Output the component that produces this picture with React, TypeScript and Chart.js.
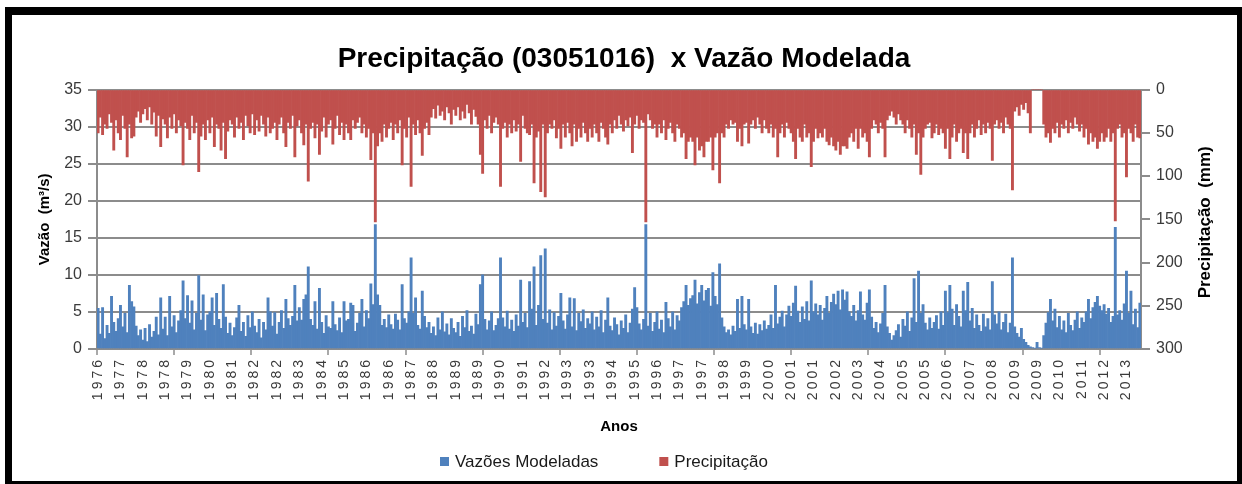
import React, { useEffect, useRef } from 'react';
import { Chart, registerables } from 'chart.js';

Chart.register(...registerables);

// Rótulos do eixo X (um a cada 10 pontos da série)
const anos = [
  '1976', '1977', '1978', '1978', '1979', '1980', '1981', '1982', '1982', '1983',
  '1984', '1985', '1986', '1986', '1987', '1988', '1989', '1989', '1990', '1991',
  '1992', '1993', '1993', '1994', '1995', '1996', '1997', '1997', '1998', '1999',
  '2000', '2001', '2001', '2002', '2003', '2004', '2005', '2005', '2006', '2007',
  '2008', '2009', '2009', '2010', '2011', '2012', '2013',
];

// Vazões modeladas (m³/s)
const vazao = [
  5.5, 2.0, 5.6, 1.4, 3.2, 2.1, 7.1, 3.6, 2.4, 4.1,
  5.9, 3.0, 4.8, 2.2, 8.6, 6.4, 5.7, 3.1, 1.8, 2.6,
  1.2, 2.8, 1.0, 3.3, 1.6, 2.4, 4.3, 1.9, 6.9, 2.7,
  4.3, 1.8, 7.1, 3.0, 4.5, 2.2, 3.8, 5.2, 9.2, 4.1,
  7.2, 3.5, 6.5, 2.6, 4.8, 9.9, 3.9, 7.3, 2.5, 4.6,
  5.0, 6.9, 3.2, 7.5, 4.0, 2.8, 8.7, 4.3, 2.1, 3.5,
  1.8, 2.9, 4.2, 5.9, 2.4, 3.6, 1.7, 4.5, 2.9, 5.0,
  3.1, 2.2, 4.0, 1.5, 3.6, 2.6, 6.9, 5.0, 3.1, 4.9,
  2.0, 3.6, 5.2, 2.8, 6.7, 4.1, 3.2, 4.4, 8.6, 3.8,
  5.6, 3.9, 6.7, 7.3, 11.1, 4.0, 3.2, 6.4, 2.7, 8.2,
  3.6, 2.1, 4.5, 3.0, 2.8, 6.4, 3.3, 2.5, 4.2, 2.2,
  6.4, 3.8, 4.0, 6.2, 5.9, 2.4, 3.5, 4.8, 6.7, 3.0,
  5.2, 4.1, 8.8, 6.0, 16.8, 7.3, 5.9, 3.2, 4.0, 2.9,
  4.6, 3.3, 2.7, 4.7, 3.9, 2.6, 8.7, 4.1, 3.5, 5.0,
  12.3, 4.8, 6.9, 3.2, 2.7, 7.8, 4.4, 2.9, 3.6, 2.1,
  3.0, 1.8, 4.2, 2.6, 5.0, 2.3, 3.4, 1.9, 4.1, 2.8,
  2.2, 3.6, 1.7, 4.4, 2.9, 5.2, 2.4, 3.1, 2.0, 4.7,
  3.3, 8.7, 10.0, 4.0, 2.6, 3.8, 5.0, 2.5, 3.2, 4.1,
  12.3, 4.2, 3.0, 5.1, 2.7, 3.9, 2.4, 4.6, 3.1, 9.3,
  3.6, 4.8, 2.9, 9.1, 5.4, 11.1, 3.2, 5.9, 12.6, 4.0,
  13.5, 3.5, 5.3, 2.6, 4.9, 3.1, 4.4, 7.5, 3.8, 2.7,
  4.6, 6.9, 3.0, 6.8, 2.5, 4.8, 3.7, 5.3, 2.8, 4.1,
  3.4, 5.0, 2.6, 4.3, 3.0, 5.2, 2.2, 3.9, 6.9, 3.1,
  2.5, 4.2, 3.3, 1.9, 3.8, 2.8, 4.6, 2.2, 3.5, 5.4,
  8.3, 5.6, 3.4, 2.6, 4.0, 16.8, 3.1, 4.8, 2.4, 3.6,
  5.0, 2.7, 3.9, 2.2, 6.3, 4.1, 3.0, 5.0, 2.6, 4.5,
  3.8, 5.6, 6.4, 8.6, 5.9, 6.8, 7.2, 9.3, 6.1, 7.6,
  8.6, 6.5, 7.9, 8.2, 5.8, 10.3, 7.1, 6.0, 11.5, 4.2,
  3.0, 2.2, 2.6, 1.9, 3.1, 2.4, 6.7, 2.8, 7.1, 3.3,
  2.6, 6.7, 3.0, 2.1, 3.5, 2.0, 3.3, 2.5, 3.8, 2.7,
  3.2, 4.6, 2.8, 8.6, 3.4, 4.3, 5.1, 3.0, 4.6, 5.8,
  4.4, 6.2, 8.5, 5.1, 3.6, 5.7, 4.0, 6.4, 3.8, 9.2,
  5.0, 6.1, 4.6, 5.9, 3.9, 5.5, 7.1, 4.8, 6.3, 7.4,
  6.0, 7.8, 5.3, 8.0, 6.6, 7.7, 5.0, 4.4, 5.9, 3.8,
  5.2, 7.7, 4.6, 3.9, 6.2, 8.0, 4.3, 2.8, 3.6, 2.2,
  3.4, 4.8, 8.6, 3.0, 2.1, 1.2, 1.8, 2.5, 3.3, 1.6,
  4.0, 3.1, 5.0, 2.4, 4.2, 9.5, 3.6, 10.5, 4.8, 6.0,
  3.5, 2.6, 4.2, 2.8, 3.6, 4.5, 2.7, 5.0, 3.2, 7.8,
  4.9, 8.6, 5.4, 3.2, 6.0, 4.4, 3.0, 7.8, 5.2, 9.0,
  3.8, 5.5, 2.8, 4.6, 3.2, 2.4, 4.7, 3.0, 4.1, 2.6,
  9.1, 4.6, 3.4, 5.0, 2.6, 3.6, 4.7, 2.2, 3.5, 12.3,
  3.0, 2.1, 1.6, 2.8, 1.3, 0.9, 0.5, 0.3, 0.2, 0.1,
  0.9, 0.2, 0.1, 1.8, 3.5, 4.9, 6.7, 3.8, 5.4, 2.9,
  4.4, 2.6, 3.8, 2.2, 4.8, 3.2, 2.5, 3.9, 5.0, 2.8,
  4.2, 3.6, 5.0, 6.7, 4.1, 5.6, 6.3, 7.1, 5.8, 5.2,
  6.0, 4.7, 5.5, 3.6, 4.4, 16.4, 4.6, 5.2, 3.9, 6.1,
  10.5, 4.8, 7.8, 3.3, 5.4, 2.9, 6.2,
];

// Precipitação (mm)
const precipitacao = [
  50, 32, 52, 40, 45, 28, 38, 70, 35, 50,
  58, 30, 45, 78, 40, 56, 54, 32, 25, 38,
  28, 22, 35, 20, 40, 26, 54, 30, 66, 34,
  40, 56, 32, 45, 28, 50, 35, 42, 87, 38,
  45, 58, 30, 50, 38, 95, 54, 40, 58, 35,
  50, 32, 66, 40, 45, 70, 38, 80, 48, 35,
  40, 55, 32, 45, 38, 58, 30, 42, 50, 28,
  52, 35, 48, 30, 40, 54, 32, 50, 45, 38,
  58, 40, 32, 50, 66, 38, 45, 30, 78, 42,
  35, 50, 64, 40, 106, 45, 38, 56, 40, 75,
  48, 32, 55, 40, 35, 63, 45, 30, 52, 38,
  58, 40, 50, 58, 35, 45, 38, 32, 50, 40,
  55, 45, 81, 50, 153, 65, 50, 60, 40, 55,
  45, 38, 58, 40, 50, 35, 87, 45, 55, 32,
  112, 40, 52, 35, 50, 76, 45, 38, 52, 32,
  22, 33, 18, 30, 25, 35, 20, 27, 40, 23,
  30, 20, 35, 25, 33, 17, 27, 40, 23, 31,
  40, 75, 97, 35, 45, 30, 50, 38, 32, 40,
  112, 45, 38, 55, 40, 50, 35, 48, 40, 83,
  30, 45, 50, 52, 40, 108, 55, 48, 118, 40,
  124, 50, 40, 45, 35, 56, 45, 68, 40, 55,
  38, 50, 65, 40, 60, 45, 55, 38, 50, 60,
  45, 55, 40, 50, 60, 38, 45, 55, 63, 40,
  50, 35, 45, 30, 40, 48, 35, 42, 32, 73,
  40, 30, 45, 35, 38, 153, 28, 35, 45, 40,
  55, 40, 50, 35, 58, 45, 38, 50, 60, 40,
  45, 55, 50, 80, 60, 55, 60, 87, 55, 70,
  65, 78, 60, 60, 55, 93, 55, 50, 108, 50,
  55, 40, 45, 35, 40, 38, 60, 45, 65, 40,
  38, 62, 40, 35, 45, 32, 40, 50, 35, 45,
  50, 40, 55, 45, 78, 50, 40, 55, 38, 45,
  50, 60, 80, 45, 55, 60, 40, 55, 50, 89,
  60, 45, 56, 50, 55, 45, 60, 64, 55, 65,
  70, 60, 75, 65, 65, 68, 55, 50, 60, 45,
  68, 45, 55, 50, 60, 78, 45, 35, 40, 50,
  38, 45, 78, 35, 30, 25, 32, 40, 28, 35,
  40, 50, 35, 45, 55, 40, 75, 50, 98, 55,
  45, 40, 38, 56, 50, 40, 52, 45, 50, 68,
  45, 80, 55, 40, 60, 50, 45, 73, 50, 80,
  50, 40, 55, 45, 35, 52, 40, 50, 38, 45,
  82, 40, 35, 45, 38, 50, 32, 40, 45, 116,
  25, 20, 30, 17, 23, 15, 27, 50, 0, 0,
  0, 0, 0, 40, 55, 50, 61, 45, 50, 38,
  55, 40, 45, 35, 50, 38, 45, 32, 40, 48,
  40, 55, 45, 63, 50, 60, 55, 68, 60, 50,
  60, 55, 45, 60, 50, 152, 45, 40, 55, 50,
  101, 45, 50, 60, 40, 55, 56,
];

const PONTOS_POR_ROTULO = 10;
const INTERVALO_MARCAS = 34.5;

const FONT = "'Liberation Sans', Arial, sans-serif";
const GRID = '#8c8c8c';
const TEXT = '#3a3a3a';

const extras = {
  id: 'extras',
  afterLayout(chart: any) {
    const xs = chart.scales.x;
    if (xs && !xs.__ls) {
      const orig = xs.drawLabels;
      xs.drawLabels = function (area: any) {
        const ctx = this.ctx;
        const prev = ctx.letterSpacing;
        ctx.letterSpacing = '3px';
        orig.call(this, area);
        ctx.letterSpacing = prev || '0px';
      };
      xs.__ls = true;
    }
  },
  afterDraw(chart: any) {
    const { ctx, chartArea } = chart;
    const n = chart.data.labels.length;
    const w = (chartArea.right - chartArea.left) / n;
    ctx.save();
    ctx.strokeStyle = GRID;
    ctx.lineWidth = 1.5;
    for (let k = 0; k * INTERVALO_MARCAS <= n; k++) {
      const x = Math.round(chartArea.left + k * INTERVALO_MARCAS * w);
      ctx.beginPath();
      ctx.moveTo(x, chartArea.bottom);
      ctx.lineTo(x, chartArea.bottom + 6);
      ctx.stroke();
    }
    // Título do eixo secundário (lido de baixo para cima)
    const y2 = chart.scales.y2;
    ctx.save();
    ctx.translate(y2.right - 23, (chartArea.top + chartArea.bottom) / 2 + 3);
    ctx.rotate(-Math.PI / 2);
    ctx.font = `bold 17px ${FONT}`;
    ctx.fillStyle = '#000';
    ctx.textAlign = 'center';
    ctx.textBaseline = 'middle';
    ctx.fillText('Precipitação  (mm)', 0, 0);
    ctx.restore();
    // Legenda
    const ly = 462;
    let lx = 440;
    ctx.font = `17px ${FONT}`;
    ctx.textBaseline = 'middle';
    ctx.textAlign = 'left';
    chart.data.datasets.forEach((ds: any) => {
      ctx.fillStyle = ds.backgroundColor;
      ctx.fillRect(lx, ly - 5, 9, 9);
      ctx.fillStyle = '#1a1a1a';
      ctx.fillText(ds.label, lx + 15, ly);
      lx += 15 + ctx.measureText(ds.label).width + 61;
    });
    ctx.restore();
  },
};

export default function App() {
  const ref = useRef<HTMLCanvasElement>(null);
  useEffect(() => {
    if (!ref.current) return;
    const labels = vazao.map((_, i) => String(i));
    const chart = new Chart(ref.current, {
      type: 'bar',
      data: {
        labels,
        datasets: [
          {
            label: 'Vazões Modeladas',
            data: vazao,
            backgroundColor: '#4F81BD',
            yAxisID: 'y',
            grouped: false,
            barPercentage: 1,
            categoryPercentage: 1,
          } as any,
          {
            label: 'Precipitação',
            data: precipitacao,
            backgroundColor: '#C0504D',
            yAxisID: 'y2',
            grouped: false,
            barPercentage: 1,
            categoryPercentage: 1,
          } as any,
        ],
      },
      options: {
        responsive: false,
        animation: false,
        devicePixelRatio: 1,
        layout: { padding: { top: 16, left: 20, right: 14, bottom: 40 } },
        plugins: {
          legend: { display: false },
          tooltip: { enabled: false },
          title: {
            display: true,
            text: 'Precipitação (03051016)  x Vazão Modelada',
            color: '#000',
            font: { family: FONT, size: 28, weight: 'bold' },
            padding: { top: 26, bottom: 14 },
          },
        },
        scales: {
          x: {
            offset: true,
            grid: { display: false, drawTicks: false },
            border: { display: true, color: GRID, width: 2 },
            ticks: {
              autoSkip: false,
              minRotation: 90,
              maxRotation: 90,
              padding: 8,
              color: TEXT,
              font: { family: FONT, size: 14 },
              callback: (_v: any, i: number) =>
                i % PONTOS_POR_ROTULO === 0 ? anos[i / PONTOS_POR_ROTULO] : null,
            },
            title: {
              display: true,
              text: 'Anos',
              color: '#000',
              font: { family: FONT, size: 15, weight: 'bold' },
              padding: { top: 0, bottom: 8 },
            },
            afterFit: (s: any) => {
              s.height = 95;
            },
          },
          y: {
            position: 'left',
            min: 0,
            max: 35,
            ticks: { stepSize: 5, padding: 6, color: TEXT, font: { family: FONT, size: 16 } },
            grid: { color: GRID, lineWidth: 2, tickLength: 9 },
            border: { color: GRID, width: 2 },
            title: {
              display: true,
              text: 'Vazão  (m³/s)',
              color: '#000',
              font: { family: FONT, size: 15, weight: 'bold' },
              padding: { top: 16, bottom: 0 },
            },
            afterFit: (s: any) => {
              s.width = 77;
            },
          },
          y2: {
            position: 'right',
            reverse: true,
            min: 0,
            max: 300,
            ticks: { stepSize: 50, padding: 6, color: TEXT, font: { family: FONT, size: 16 } },
            grid: { drawOnChartArea: false, color: GRID, lineWidth: 2, tickLength: 9 },
            border: { color: GRID, width: 2 },
            afterFit: (s: any) => {
              s.width = 87;
            },
          },
        },
      } as any,
      plugins: [extras],
    });
    return () => chart.destroy();
  }, []);

  return (
    <div style={{ position: 'absolute', left: 0, top: 0, width: 1242, height: 484, background: '#fff' }}>
      <canvas ref={ref} width={1242} height={484} style={{ position: 'absolute', left: 0, top: 0, display: 'block' }} />
      <div
        style={{
          position: 'absolute',
          left: 5,
          top: 7,
          width: 1237,
          height: 477,
          boxSizing: 'border-box',
          borderStyle: 'solid',
          borderColor: '#000',
          borderWidth: '8px 5px 3px 7px',
          pointerEvents: 'none',
        }}
      />
    </div>
  );
}
